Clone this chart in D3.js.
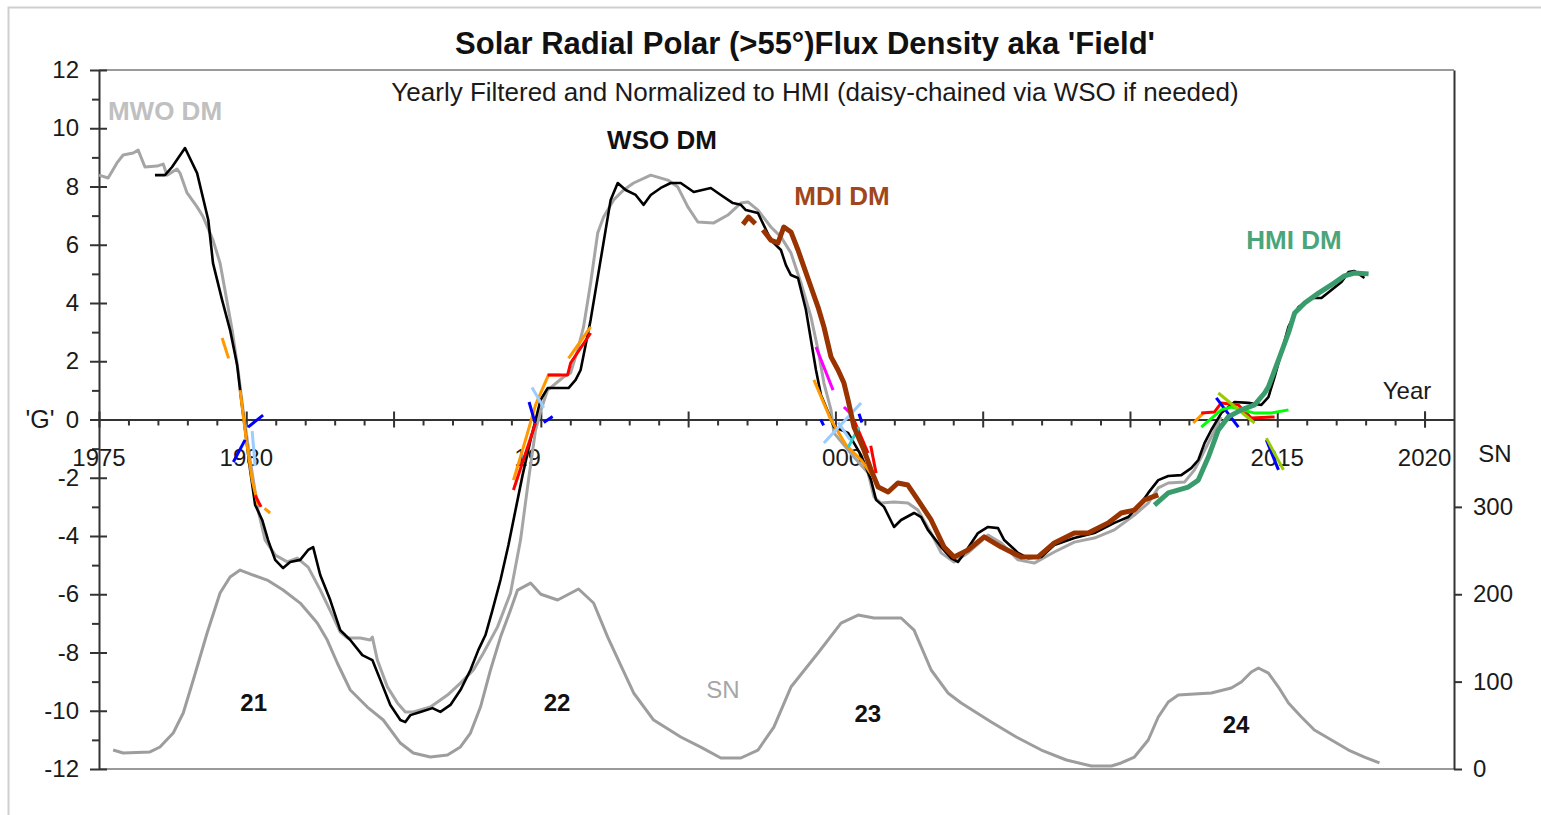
<!DOCTYPE html>
<html>
<head>
<meta charset="utf-8">
<script src="https://cdn.jsdelivr.net/npm/d3@7"></script>
<style>
body { margin: 0; background: #fff; }
svg text { font-family: "Liberation Sans", Arial, sans-serif; }
</style>
</head>
<body>
<script>
//SVG dimension variables
var w = 1541, h = 815;

//polar field series, [year, G]
var mwo = [[1975.00,8.39],[1975.31,8.29],[1975.61,8.81],[1975.82,9.08],[1976.16,9.15],[1976.33,9.25],[1976.56,8.67],[1976.97,8.70],[1977.18,8.77],[1977.31,8.39],[1977.65,8.60],[1977.75,8.46],[1977.99,7.78],[1978.33,7.30],[1978.54,6.95],[1978.87,6.16],[1979.11,5.37],[1979.52,3.07],[1979.72,1.70],[1979.89,0.33],[1980.13,-1.39],[1980.40,-3.11],[1980.64,-4.14],[1980.98,-4.65],[1981.39,-4.89],[1981.73,-4.76],[1982.10,-5.07],[1982.51,-5.85],[1982.95,-6.78],[1983.19,-7.30],[1983.43,-7.50],[1983.87,-7.50],[1984.21,-7.57],[1984.28,-7.47],[1984.45,-8.26],[1984.79,-9.18],[1985.13,-9.73],[1985.40,-10.04],[1985.67,-10.04],[1986.25,-9.87],[1986.83,-9.46],[1987.27,-9.05],[1987.71,-8.60],[1988.05,-8.02],[1988.53,-7.12],[1988.97,-5.96],[1989.31,-4.14],[1989.58,-2.08],[1989.82,-0.36],[1990.06,0.50],[1990.23,1.01],[1990.77,1.46],[1991.01,1.60],[1991.25,2.39],[1991.45,3.18],[1991.69,4.69],[1991.93,6.40],[1992.13,6.95],[1992.47,7.54],[1992.81,7.88],[1993.15,8.12],[1993.73,8.39],[1994.31,8.22],[1994.65,7.98],[1994.99,7.30],[1995.33,6.78],[1995.87,6.75],[1996.35,7.02],[1996.79,7.43],[1997.03,7.47],[1997.37,7.19],[1997.81,6.61],[1998.15,6.27],[1998.49,5.72],[1998.83,4.69],[1999.17,3.52],[1999.41,2.39],[1999.61,1.25],[1999.85,0.33],[1999.95,-0.46],[2000.63,-1.29],[2001.11,-1.84],[2001.31,-2.66],[2001.55,-2.87],[2001.99,-2.83],[2002.46,-2.87],[2002.80,-3.11],[2003.25,-3.90],[2003.59,-4.58],[2004.03,-4.89],[2004.50,-4.58],[2005.18,-3.97],[2005.63,-4.24],[2006.20,-4.82],[2006.75,-4.93],[2007.43,-4.55],[2008.11,-4.21],[2008.79,-4.07],[2009.47,-3.79],[2010.15,-3.28],[2010.62,-2.87],[2010.96,-2.35],[2011.30,-2.18],[2011.85,-2.15],[2012.19,-1.73],[2012.42,-1.29],[2012.76,-0.60],[2013.10,0.09]];

var wso = [[1976.90,8.39],[1977.24,8.39],[1977.48,8.67],[1977.92,9.32],[1978.33,8.46],[1978.71,6.85],[1978.87,5.37],[1979.18,4.10],[1979.45,3.07],[1979.69,1.87],[1979.83,0.67],[1979.96,-0.36],[1980.13,-1.73],[1980.30,-2.93],[1980.54,-3.45],[1980.74,-4.14],[1980.98,-4.82],[1981.25,-5.10],[1981.49,-4.89],[1981.83,-4.82],[1982.10,-4.48],[1982.27,-4.38],[1982.51,-5.34],[1982.85,-6.20],[1983.19,-7.23],[1983.53,-7.57],[1983.94,-8.09],[1984.28,-8.26],[1984.55,-8.94],[1984.89,-9.80],[1985.23,-10.32],[1985.40,-10.39],[1985.57,-10.15],[1985.91,-10.04],[1986.32,-9.91],[1986.59,-10.04],[1986.93,-9.80],[1987.27,-9.29],[1987.61,-8.60],[1987.88,-7.91],[1988.12,-7.40],[1988.36,-6.54],[1988.63,-5.51],[1988.90,-4.31],[1989.14,-3.11],[1989.38,-1.91],[1989.65,-0.70],[1989.82,-0.02],[1989.99,0.67],[1990.23,1.08],[1990.94,1.08],[1991.18,1.36],[1991.35,1.70],[1991.52,2.56],[1991.69,3.42],[1991.86,4.45],[1992.03,5.48],[1992.20,6.51],[1992.37,7.54],[1992.61,8.12],[1992.88,7.88],[1993.22,7.71],[1993.49,7.37],[1993.73,7.71],[1994.07,7.95],[1994.41,8.12],[1994.75,8.12],[1995.19,7.81],[1995.77,7.95],[1996.11,7.71],[1996.52,7.43],[1996.79,7.37],[1996.96,7.19],[1997.37,7.09],[1997.81,6.16],[1998.15,5.82],[1998.32,5.30],[1998.49,4.96],[1998.73,4.86],[1999.00,3.76],[1999.17,2.73],[1999.34,1.70],[1999.51,0.84],[1999.75,0.26],[1999.95,-0.26],[2000.43,-0.46],[2000.87,-1.22],[2001.21,-2.08],[2001.38,-2.76],[2001.65,-3.00],[2001.99,-3.69],[2002.23,-3.45],[2002.67,-3.21],[2002.91,-3.35],[2003.14,-3.79],[2003.59,-4.38],[2003.93,-4.76],[2004.16,-4.89],[2004.50,-4.41],[2004.84,-3.90],[2005.18,-3.69],[2005.52,-3.73],[2005.73,-4.14],[2006.20,-4.58],[2006.54,-4.76],[2006.99,-4.72],[2007.43,-4.31],[2008.11,-4.07],[2008.79,-3.90],[2009.47,-3.55],[2009.94,-3.35],[2010.38,-2.87],[2010.62,-2.52],[2010.96,-2.08],[2011.30,-1.94],[2011.74,-1.91],[2012.08,-1.67],[2012.32,-1.39],[2012.53,-0.81],[2012.76,-0.36],[2013.10,0.22],[2013.55,0.60],[2014.02,0.57],[2014.46,0.50],[2014.70,0.77],[2014.91,1.46],[2015.38,3.18],[2015.72,3.86],[2016.16,4.17],[2016.50,4.17],[2016.84,4.45],[2017.18,4.72],[2017.42,5.06],[2017.62,5.10],[2017.96,4.86]];

//null value = gap in the MDI record
var mdi = [[1996.86,6.70],[1997.05,6.95],[1997.28,6.72],[1997.40,null],[1997.54,6.51],[1997.81,6.16],[1998.05,6.06],[1998.25,6.61],[1998.49,6.44],[1998.73,5.82],[1998.93,5.24],[1999.17,4.55],[1999.41,3.86],[1999.61,3.18],[1999.85,2.15],[2000.09,1.70],[2000.29,1.25],[2000.43,0.67],[2000.63,-0.26],[2000.97,-1.05],[2001.21,-1.73],[2001.45,-2.32],[2001.79,-2.49],[2002.12,-2.18],[2002.46,-2.25],[2002.80,-2.76],[2003.25,-3.45],[2003.69,-4.38],[2004.03,-4.72],[2004.50,-4.48],[2005.05,-4.03],[2005.63,-4.38],[2006.31,-4.72],[2006.88,-4.72],[2007.43,-4.24],[2008.11,-3.90],[2008.58,-3.90],[2009.26,-3.55],[2009.70,-3.21],[2010.15,-3.11],[2010.49,-2.76],[2010.96,-2.59]];

var hmi = [[2010.83,-2.94],[2011.30,-2.52],[2011.98,-2.32],[2012.32,-2.08],[2012.66,-1.29],[2013.00,-0.36],[2013.34,0.09],[2013.78,0.33],[2014.23,0.50],[2014.57,0.91],[2014.70,1.12],[2015.04,2.04],[2015.38,2.97],[2015.59,3.66],[2015.93,4.00],[2016.40,4.34],[2016.94,4.69],[2017.28,4.93],[2017.62,5.03],[2018.10,5.00]];

//sunspot number, [year, SN]
var sn = [[1975.48,21.7],[1975.82,18.3],[1976.73,19.5],[1977.07,25.2],[1977.52,41.2],[1977.86,64.1],[1978.20,101.8],[1978.67,155.6],[1979.11,201.4],[1979.45,219.7],[1979.79,227.7],[1980.23,222.0],[1980.71,216.2],[1981.25,204.8],[1981.83,189.9],[1982.41,167.0],[1982.75,147.6],[1983.09,121.3],[1983.53,90.4],[1984.11,70.9],[1984.65,56.1],[1985.23,29.7],[1985.67,18.3],[1986.25,13.7],[1986.83,16.0],[1987.27,25.2],[1987.61,41.2],[1987.95,70.9],[1988.29,113.3],[1988.63,151.0],[1988.97,181.9],[1989.21,204.8],[1989.65,212.8],[1990.00,200.0],[1990.57,193.4],[1991.28,206.0],[1991.79,190.0],[1992.27,151.0],[1992.71,119.0],[1993.15,87.0],[1993.83,56.0],[1994.75,36.6],[1995.43,25.0],[1996.11,12.6],[1996.79,12.6],[1997.37,21.7],[1997.91,48.0],[1998.49,93.8],[1999.41,132.7],[2000.19,167.0],[2000.77,176.2],[2001.31,172.8],[2002.23,172.8],[2002.67,159.0],[2003.25,113.3],[2003.82,87.0],[2004.27,75.5],[2005.29,53.8],[2006.14,36.6],[2006.99,21.7],[2007.84,10.3],[2008.69,3.4],[2009.37,3.4],[2009.70,6.9],[2010.15,13.7],[2010.62,33.2],[2010.96,59.5],[2011.30,76.7],[2011.64,84.7],[2012.19,85.8],[2012.76,87.0],[2013.44,92.7],[2013.78,99.5],[2014.12,111.0],[2014.36,115.6],[2014.70,109.8],[2015.04,93.8],[2015.38,75.5],[2015.82,59.5],[2016.26,44.6],[2016.84,33.2],[2017.42,21.7],[2017.96,13.7],[2018.47,6.9]];

//little coloured bits near the reversals
var orangeBits = [[[1979.18,2.8],[1979.40,2.1]],[[1979.79,1.01],[1980.0,-0.70],[1980.2,-2.08],[1980.4,-2.94]],[[1980.62,-3.05],[1980.81,-3.21]],[[1989.07,-2.08],[1989.48,-0.70],[1989.82,0.50],[1990.26,1.53],[1990.67,1.53]],[[1990.94,2.10],[1991.69,3.18]],[[1999.27,1.36],[1999.85,-0.02],[2000.36,-0.88],[2000.87,-1.39],[2001.31,-2.0]],[[2012.15,-0.12],[2012.49,0.22]]];
var redBits = [[[1980.3,-2.6],[1980.5,-3.0]],[[1989.07,-2.42],[1989.82,-0.12]],[[1990.23,1.53],[1990.91,1.53],[1991.01,1.94],[1991.69,2.97]],[[2000.63,-0.02],[2001.11,-1.15]],[[2001.2,-0.9],[2001.38,-1.84]],[[2012.42,0.22],[2012.87,0.26],[2013.10,0.57],[2013.68,0.50],[2014.12,0.05],[2014.91,0.09]]];
var blueBits = [[[1979.56,-1.46],[1979.96,-0.70]],[[1980.06,-0.26],[1980.57,0.15]],[[1989.6,0.6],[1989.8,-0.1]],[[1990.1,-0.1],[1990.4,0.1]],[[1999.5,0.0],[1999.6,-0.2]],[[2000.8,0.2],[2000.9,-0.1]],[[2012.93,0.74],[2013.68,-0.26]],[[2014.63,-0.7],[2015.04,-1.73]]];
var lightBlueBits = [[[1980.2,-0.4],[1980.3,-1.6]],[[1989.7,1.1],[1990.1,0.4]],[[1999.61,-0.81],[2000.87,0.57]],[[2000.09,-0.1],[2000.5,-0.7]]];
var magentaBits = [[[1999.34,2.49],[1999.92,1.01]],[[2000.29,0.43],[2000.5,0.22]]];
var cyanBits = [[[2000.43,-0.96],[2000.8,-0.26]]];
var greenBits = [[[2012.42,-0.26],[2013.10,0.33],[2013.44,0.43],[2014.23,0.22],[2014.80,0.22],[2015.38,0.33]]];
var limeBits = [[[2013.0,0.91],[2014.23,-0.12]],[[2014.63,-0.64],[2015.21,-1.73]]];

//axis ticks and labels
var gMajor = d3.range(-12, 13, 2);
var gMinor = d3.range(-11, 12, 2);
var snTicks = [0, 100, 200, 300];
var yearMajor = d3.range(1975, 2021, 5);
var yearMinor = d3.range(1976, 2021, 1).filter(function(d){ return d % 5 != 0; });
var yearLabels = [1975, 1980, 1990, 2000, 2015, 2020];
//characters of a year label that are painted over in the original
var coveredChars = {1990: [2, 3], 2000: [0]};

//cycle numbers, [label, year, G]
var cycles = [["21", 1980.25, -10.0], ["22", 1990.55, -10.0], ["23", 2001.1, -10.4], ["24", 2013.6, -10.75]];

window.onload = function(){
    var svg = d3.select("body")
        .append("svg")
        .attr("width", w)
        .attr("height", h)
        .style("display", "block")
        .style("background-color", "#fff");

    var x = d3.scaleLinear().domain([1975, 2021]).range([99, 1454]);
    var y = d3.scaleLinear().domain([-12, 12]).range([769, 70]);
    var ySN = d3.scaleLinear().domain([0, 800]).range([769, 70]);

    //plain hyphen for negatives, like the original
    var plain = function(d){ return String(d); };

    //light frame round the picture
    svg.append("path")
        .attr("d", "M8.5,815 L8.5,7.5 L1541,7.5")
        .attr("fill", "none")
        .attr("stroke", "#cfcfcf")
        .attr("stroke-width", 2);

    //top and bottom edges of the plot
    [12, -12].forEach(function(v){
        svg.append("line")
            .attr("x1", x(1975)).attr("x2", x(2021))
            .attr("y1", y(v)).attr("y2", y(v))
            .attr("stroke", "#9a9a9a")
            .attr("stroke-width", 2);
    });

    //left axis, majors cross the line
    var left = svg.append("g")
        .attr("transform", "translate(" + x(1975) + ",0)")
        .call(d3.axisLeft(y).tickValues(gMajor).tickFormat(plain).tickSizeInner(9).tickSizeOuter(0).tickPadding(11));
    left.selectAll(".tick line").attr("x1", 8);
    svg.append("g")
        .attr("transform", "translate(" + x(1975) + ",0)")
        .call(d3.axisLeft(y).tickValues(gMinor).tickSize(7).tickFormat(""))
        .select(".domain").remove();

    //right axis for sunspot number
    svg.append("g")
        .attr("transform", "translate(" + x(2021) + ",0)")
        .call(d3.axisRight(ySN).tickValues(snTicks).tickFormat(plain).tickSizeInner(8).tickSizeOuter(0).tickPadding(11));

    //year axis along G = 0
    var bottom = svg.append("g")
        .attr("transform", "translate(0," + y(0) + ")")
        .call(d3.axisBottom(x).tickValues(yearMajor.concat([2020])).tickSizeInner(8).tickSizeOuter(0).tickFormat(""));
    bottom.selectAll(".tick line").attr("y1", -8);
    svg.append("g")
        .attr("transform", "translate(0," + y(0) + ")")
        .call(d3.axisBottom(x).tickValues(yearMinor).tickSize(6).tickFormat(""))
        .select(".domain").remove();

    svg.selectAll(".domain").attr("stroke", "#333").attr("stroke-width", 2);
    svg.selectAll(".tick line").attr("stroke", "#333").attr("stroke-width", 2);
    svg.selectAll(".tick text")
        .attr("fill", "#1a1a1a")
        .style("font-size", "24px")
        .style("font-family", "'Liberation Sans', Arial, sans-serif");

    //year labels, painted-over digits kept invisible
    var yl = svg.append("g").selectAll("text")
        .data(yearLabels)
        .enter().append("text")
        .attr("x", function(d){ return x(d); })
        .attr("y", 466)
        .attr("text-anchor", "middle")
        .attr("fill", "#1a1a1a")
        .style("font-size", "24px");
    yl.each(function(d){
        var t = d3.select(this), hid = coveredChars[d] || [];
        String(d).split("").forEach(function(c, i){
            t.append("tspan").text(c).attr("fill-opacity", hid.indexOf(i) >= 0 ? 0 : 1);
        });
    });

    var line = d3.line()
        .defined(function(d){ return d[1] != null; })
        .x(function(d){ return x(d[0]); })
        .y(function(d){ return y(d[1]); });
    var snLine = d3.line()
        .x(function(d){ return x(d[0]); })
        .y(function(d){ return ySN(d[1]); });

    function draw(data, gen, color, width){
        svg.append("path")
            .datum(data)
            .attr("d", gen)
            .attr("fill", "none")
            .attr("stroke", color)
            .attr("stroke-width", width)
            .attr("stroke-linejoin", "round");
    }

    draw(sn, snLine, "#9d9d9d", 3);
    draw(mwo, line, "#a5a5a5", 3);
    draw(wso, line, "#000", 2.6);

    [[orangeBits, "#ff9900"], [redBits, "#ff0000"], [blueBits, "#0000ff"], [lightBlueBits, "#99ccff"],
     [magentaBits, "#ff00ff"], [cyanBits, "#33cccc"], [greenBits, "#00ff00"], [limeBits, "#99cc00"]]
        .forEach(function(b){
            b[0].forEach(function(seg){ draw(seg, line, b[1], 3); });
        });

    draw(mdi, line, "#993300", 5);
    draw(hmi, line, "#3a9b6c", 5);

    //titles
    svg.append("text")
        .attr("x", 805).attr("y", 54)
        .attr("text-anchor", "middle")
        .style("font-size", "31px").style("font-weight", "bold")
        .attr("fill", "#111")
        .text("Solar Radial Polar (>55°)Flux Density aka 'Field'");
    svg.append("text")
        .attr("x", 815).attr("y", 101)
        .attr("text-anchor", "middle")
        .style("font-size", "26px")
        .attr("fill", "#1a1a1a")
        .text("Yearly Filtered and Normalized to HMI (daisy-chained via WSO if needed)");

    //series labels
    var labels = [
        ["MWO DM", 165, 120, "#c0c0c0", "bold", 26],
        ["WSO DM", 662, 149, "#111", "bold", 26],
        ["MDI DM", 842, 205, "#a0461c", "bold", 26],
        ["HMI DM", 1294, 249, "#4aa67a", "bold", 26],
        ["Year", 1407, 399, "#1a1a1a", "normal", 24],
        ["SN", 1495, 462, "#1a1a1a", "normal", 24],
        ["SN", 723, 698, "#a6a6a6", "normal", 24]
    ];
    labels.forEach(function(l){
        svg.append("text")
            .attr("x", l[1]).attr("y", l[2])
            .attr("text-anchor", "middle")
            .attr("fill", l[3])
            .style("font-weight", l[4])
            .style("font-size", l[5] + "px")
            .text(l[0]);
    });
    svg.append("text")
        .attr("x", 40).attr("y", 428)
        .attr("text-anchor", "middle")
        .attr("fill", "#1a1a1a")
        .style("font-size", "25px")
        .text("'G'");

    //cycle numbers
    svg.selectAll(".cycle")
        .data(cycles)
        .enter().append("text")
        .attr("class", "cycle")
        .attr("x", function(d){ return x(d[1]); })
        .attr("y", function(d){ return y(d[2]); })
        .attr("text-anchor", "middle")
        .attr("fill", "#111")
        .style("font-weight", "bold")
        .style("font-size", "24px")
        .text(function(d){ return d[0]; });
};
</script>
</body>
</html>
